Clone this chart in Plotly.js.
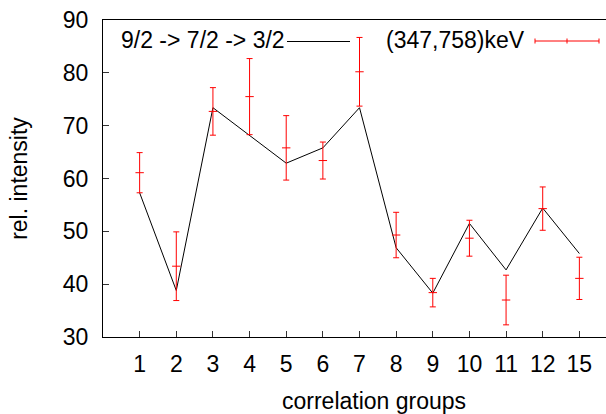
<!DOCTYPE html>
<html>
<head>
<meta charset="utf-8">
<script src="https://cdn.plot.ly/plotly-3.0.1.min.js"></script>
<style>
html, body { margin: 0; padding: 0; overflow: hidden; background: #fff; }
#chart { width: 620px; height: 414px; }
</style>
</head>
<body>
<div id="chart"></div>
<script>
// Data
var groups = ['1', '2', '3', '4', '5', '6', '7', '8', '9', '10', '11', '12', '15'];
var theory = [57.3, 38.8, 73.4, 68.2, 62.9, 65.8, 73.4, 46.9, 38.3, 51.5, 42.7, 54.4, 45.8];
var measured = [61.1, 43.4, 72.7, 75.5, 65.8, 63.4, 80.2, 49.3, 38.4, 48.7, 37.0, 54.3, 41.1];
var measuredErr = [3.8, 6.5, 4.5, 7.2, 6.1, 3.5, 6.5, 4.3, 2.7, 3.4, 4.7, 4.1, 4.0];
var yTicks = [30, 40, 50, 60, 70, 80, 90];
var theoryName = '9/2 -&gt; 7/2 -&gt; 3/2';
var measuredName = '(347,758)keV';
var xTitle = 'correlation groups';
var yTitle = 'rel. intensity';

var W = 620, H = 414;
var M = { l: 103, r: 4, t: 20, b: 77 };
var PW = W - M.l - M.r, PH = H - M.t - M.b;
function px(x) { return (x - M.l) / PW; }
function py(y) { return (M.t + PH - y) / PH; }

var font = { family: 'Liberation Sans, Arial, Helvetica, sans-serif', size: 23, color: '#000' };

var traces = [
  {
    x: groups, y: theory, type: 'scatter', mode: 'lines',
    line: { color: '#000', width: 1 }, name: theoryName, showlegend: false
  },
  {
    x: groups, y: measured, type: 'scatter', mode: 'markers',
    marker: { symbol: 'line-ew', size: 6, color: '#ff0000', line: { color: '#ff0000', width: 1 } },
    error_y: { type: 'data', array: measuredErr, visible: true, color: '#ff0000', thickness: 1, width: 3 },
    name: measuredName, showlegend: false
  }
];

var layout = {
  width: W, height: H,
  margin: M,
  paper_bgcolor: '#fff', plot_bgcolor: '#fff',
  font: font,
  showlegend: false,
  xaxis: {
    type: 'category',
    range: [-1, 13],
    showgrid: false, zeroline: false,
    showline: true, linecolor: '#000', linewidth: 1, mirror: true,
    ticks: 'inside', ticklen: 6, tickcolor: '#333', tickwidth: 1,
    ticklabelstandoff: 6,
    tickfont: font
  },
  yaxis: {
    range: [30, 90],
    tickvals: yTicks,
    showgrid: false, zeroline: false,
    showline: true, linecolor: '#000', linewidth: 1, mirror: true,
    ticks: 'inside', ticklen: 6, tickcolor: '#333', tickwidth: 1,
    ticklabelstandoff: 9,
    tickfont: font,
    title: { text: yTitle, font: font, standoff: 28 }
  },
  annotations: [
    { xref: 'paper', yref: 'paper', x: px(374), y: py(401), xanchor: 'center', yanchor: 'middle',
      text: xTitle, showarrow: false, font: font },
    { xref: 'paper', yref: 'paper', x: px(287), y: py(40), xanchor: 'right', yanchor: 'middle',
      text: theoryName, showarrow: false, font: font },
    { xref: 'paper', yref: 'paper', x: px(527), y: py(40), xanchor: 'right', yanchor: 'middle',
      text: measuredName, showarrow: false, font: font }
  ],
  shapes: [
    { type: 'line', xref: 'paper', yref: 'paper', x0: px(287), x1: px(350), y0: py(41.5), y1: py(41.5),
      line: { color: '#000', width: 1 } },
    { type: 'line', xref: 'paper', yref: 'paper', x0: px(535), x1: px(599), y0: py(41), y1: py(41),
      line: { color: '#ff0000', width: 1 } },
    { type: 'line', xref: 'paper', yref: 'paper', x0: px(535), x1: px(535), y0: py(38.5), y1: py(43.5),
      line: { color: '#ff0000', width: 1 } },
    { type: 'line', xref: 'paper', yref: 'paper', x0: px(567), x1: px(567), y0: py(38.5), y1: py(43.5),
      line: { color: '#ff0000', width: 1 } },
    { type: 'line', xref: 'paper', yref: 'paper', x0: px(599), x1: px(599), y0: py(38.5), y1: py(43.5),
      line: { color: '#ff0000', width: 1 } }
  ]
};

Plotly.newPlot('chart', traces, layout, { displayModeBar: false, staticPlot: true });
</script>
</body>
</html>
